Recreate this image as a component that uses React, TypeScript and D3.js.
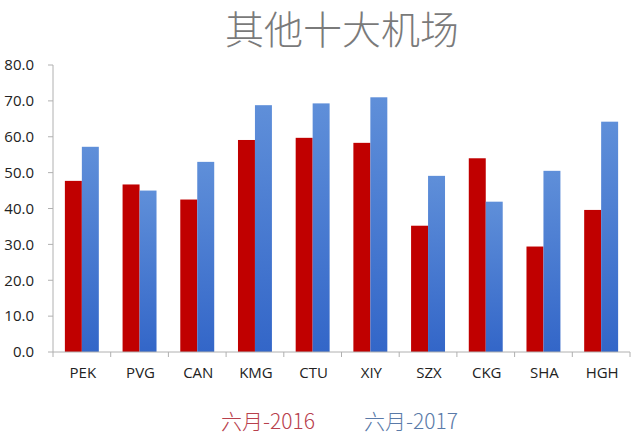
import React from "react";
import * as d3 from "d3";

const categories = ["PEK", "PVG", "CAN", "KMG", "CTU", "XIY", "SZX", "CKG", "SHA", "HGH"];
const series = ["六月-2016", "六月-2017"];
const values2016 = [47.7, 46.7, 42.5, 59.1, 59.7, 58.3, 35.2, 54.0, 29.4, 39.6];
const values2017 = [57.2, 45.0, 53.0, 68.8, 69.3, 71.0, 49.1, 41.9, 50.5, 64.2];
const yTicks = [0, 10, 20, 30, 40, 50, 60, 70, 80];
const title = "其他十大机场";

const W = 640;
const H = 438;
const left = 53;
const right = 630;
const top = 65;
const bottom = 352;

export default function App() {
  const x0 = d3.scaleBand<string>().domain(categories).range([left, right]).padding(0);
  const x1 = d3
    .scaleBand<string>()
    .domain(series)
    .range([0, x0.bandwidth()])
    .paddingInner(0)
    .paddingOuter(0.7);
  const y = d3.scaleLinear().domain([0, 80]).range([bottom, top]);
  const data = [values2016, values2017];
  const fills = ["#C00000", "url(#blueGrad)"];
  const legendColors = ["#b8404c", "#5a7aa8"];

  return (
    <svg
      width={W}
      height={H}
      style={{ position: "absolute", left: 0, top: 0, background: "#fff" }}
    >
      <defs>
        <linearGradient id="blueGrad" x1="0" y1="0" x2="0" y2="1">
          <stop offset="0%" stopColor="#5f8fd9" />
          <stop offset="100%" stopColor="#3366c8" />
        </linearGradient>
      </defs>
      <text
        x={342}
        y={44}
        textAnchor="middle"
        fontFamily="'Noto Sans CJK SC', sans-serif"
        fontWeight={300}
        fontSize={39}
        fill="#7a7a7a"
      >
        {title}
      </text>
      {/* y axis */}
      <line x1={left} x2={left} y1={top} y2={bottom} stroke="#b0b0b0" strokeWidth={1} />
      {yTicks.map((t) => (
        <g key={t}>
          <line x1={left - 5} x2={left} y1={y(t)} y2={y(t)} stroke="#b0b0b0" />
          <text
            x={34}
            y={y(t)}
            dy="0.35em"
            textAnchor="end"
            fontFamily="'Open Sans', sans-serif"
            fontSize={15}
            fill="#222"
          >
            {t.toFixed(1)}
          </text>
        </g>
      ))}
      {/* bars */}
      {categories.map((c, i) => (
        <g key={c} transform={`translate(${x0(c)},0)`}>
          {series.map((s, j) => (
            <rect
              key={s}
              x={x1(s)}
              y={y(data[j][i])}
              width={x1.bandwidth()}
              height={y(0) - y(data[j][i])}
              fill={fills[j]}
            />
          ))}
        </g>
      ))}
      {/* x axis */}
      <line x1={left} x2={right} y1={bottom} y2={bottom} stroke="#b0b0b0" />
      {[...categories.map((c) => x0(c) as number), right].map((px, k) => (
        <line key={k} x1={px} x2={px} y1={bottom} y2={bottom + 5} stroke="#b0b0b0" />
      ))}
      {categories.map((c) => (
        <text
          key={c}
          x={(x0(c) as number) + x0.bandwidth() / 2 + 1}
          y={378}
          textAnchor="middle"
          fontFamily="'Open Sans', sans-serif"
          fontSize={15}
          fill="#222"
        >
          {c}
        </text>
      ))}
      {/* legend */}
      {series.map((s, j) => (
        <text
          key={s}
          x={j === 0 ? 221 : 364}
          y={429}
          fontFamily="'Noto Sans CJK SC', sans-serif"
          fontWeight={300}
          fontSize={21}
          fill={legendColors[j]}
        >
          {s}
        </text>
      ))}
    </svg>
  );
}
